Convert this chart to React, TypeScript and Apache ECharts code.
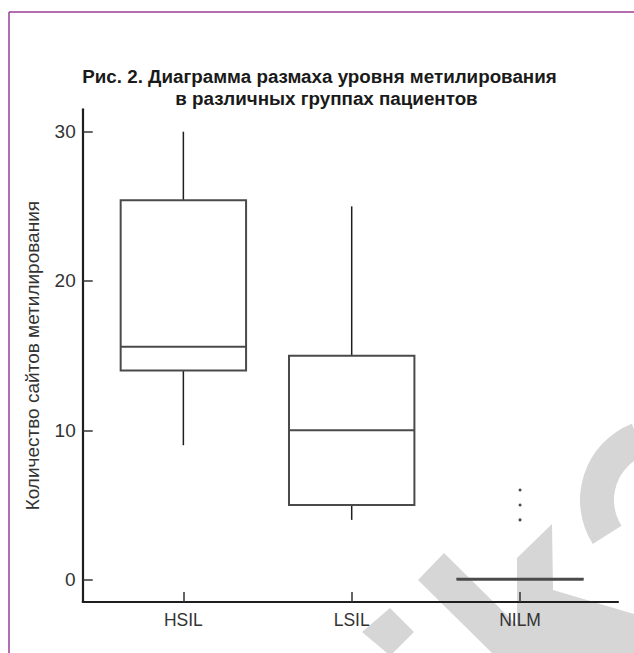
import React, { useEffect, useRef } from 'react';
import * as echarts from 'echarts';

const categories = ['HSIL', 'LSIL', 'NILM'];
// [min, Q1, median, Q3, max]
const boxValues = [
  [9, 14, 15.6, 25.4, 30],
  [4, 5, 10, 15, 25],
  [0, 0, 0, 0.05, 0],
];
const outliers = [
  [2, 6],
  [2, 5],
  [2, 4],
];
const yTicks = [0, 10, 20, 30];
const titleLines = [
  'Рис. 2. Диаграмма размаха уровня метилирования',
  'в различных группах пациентов',
];
const yName = 'Количество сайтов метилирования';

const FONT = '"Liberation Sans", Arial, sans-serif';
const WM = '#d6d6d6';

export default function App() {
  const ref = useRef<HTMLDivElement>(null);
  useEffect(() => {
    if (!ref.current) return;
    const chart = echarts.init(ref.current, undefined, { renderer: 'svg' });
    const option: any = {
      animation: false,
      backgroundColor: '#fff',
      textStyle: { fontFamily: FONT },
      graphic: [
        // watermark
        { type: 'polygon', z: -10, shape: { points: [[418, 580], [444, 553], [545, 653], [492, 653]] }, style: { fill: WM } },
        { type: 'polygon', z: -10, shape: { points: [[390, 608], [414, 632], [393, 653], [387, 653], [362, 632]] }, style: { fill: WM } },
        { type: 'polygon', z: -10, shape: { points: [[517, 558], [552, 524], [554, 653], [517, 653]] }, style: { fill: WM } },
        { type: 'polygon', z: -10, shape: { points: [[553, 590], [634, 614], [634, 653], [553, 653]] }, style: { fill: WM } },
        { type: 'sector', z: -10, shape: { cx: 662, cy: 500, r0: 48, r: 82, startAngle: Math.PI * 0.82, endAngle: Math.PI * 1.38 }, style: { fill: WM } },
        // frame
        { type: 'line', z: 1, shape: { x1: 9, y1: 12, x2: 634, y2: 12 }, style: { stroke: '#9a3e96', lineWidth: 1.5 } },
        { type: 'line', z: 1, shape: { x1: 9, y1: 12, x2: 9, y2: 653 }, style: { stroke: '#9a3e96', lineWidth: 1.5 } },
        // title
        { type: 'text', z: 1, style: { text: titleLines[0], x: 319.5, y: 76, align: 'center', verticalAlign: 'middle', font: 'bold 18.8px ' + FONT, fill: '#1a1a1a' } },
        { type: 'text', z: 1, style: { text: titleLines[1], x: 326.5, y: 98, align: 'center', verticalAlign: 'middle', font: 'bold 18.8px ' + FONT, fill: '#1a1a1a' } },
      ],
      grid: [
        { left: 99.2, right: 29.8, top: 109.3, bottom: 51 },
        { left: 82.7, right: 16, top: 109.3, bottom: 51 },
      ],
      xAxis: [
        {
          type: 'category',
          gridIndex: 0,
          data: categories,
          z: 3,
          axisLine: { show: false, onZero: false },
          axisTick: { show: true, inside: true, length: 10, alignWithLabel: true, lineStyle: { color: '#333', width: 1.5 } },
          axisLabel: { fontSize: 17.5, color: '#333', margin: 9, fontFamily: FONT },
          splitLine: { show: false },
        },
        {
          type: 'value',
          gridIndex: 1,
          min: 0,
          max: 1,
          z: 3,
          axisLine: { show: true, onZero: false, lineStyle: { color: '#1e1e1e', width: 2.2 } },
          axisTick: { show: false },
          axisLabel: { show: false },
          splitLine: { show: false },
        },
      ],
      yAxis: [
        {
          type: 'value',
          gridIndex: 0,
          min: -1.5,
          max: 31.5,
          offset: 16.5,
          z: 3,
          name: yName,
          nameLocation: 'middle',
          nameGap: 41,
          nameTextStyle: { fontSize: 19, color: '#333', fontFamily: FONT },
          axisLine: { show: true, onZero: false, lineStyle: { color: '#1e1e1e', width: 2.2 } },
          axisTick: { show: true, inside: true, length: 10, customValues: yTicks, lineStyle: { color: '#333', width: 1.5 } },
          axisLabel: { customValues: yTicks, fontSize: 19, color: '#333', margin: 7, fontFamily: FONT },
          splitLine: { show: false },
        },
        { type: 'value', gridIndex: 1, min: 0, max: 1, show: false },
      ],
      series: [
        {
          type: 'custom',
          xAxisIndex: 0,
          yAxisIndex: 0,
          z: 5,
          data: boxValues.map((v, i) => [i, ...v]),
          encode: { x: 0, y: [1, 2, 3, 4, 5] },
          renderItem: (params: any, api: any) => {
            const x = api.value(0);
            const lo = api.coord([x, api.value(1)]);
            const q1 = api.coord([x, api.value(2)]);
            const med = api.coord([x, api.value(3)]);
            const q3 = api.coord([x, api.value(4)]);
            const hi = api.coord([x, api.value(5)]);
            const half = (api.size([1, 0])[0] * 0.745) / 2;
            const cx = lo[0];
            const whisker = { stroke: '#1e1e1e', lineWidth: 1.5 };
            const box = { stroke: '#4a4a4a', lineWidth: 2, fill: 'none' };
            return {
              type: 'group',
              children: [
                { type: 'line', shape: { x1: cx, y1: hi[1], x2: cx, y2: q3[1] }, style: whisker },
                { type: 'line', shape: { x1: cx, y1: q1[1], x2: cx, y2: lo[1] }, style: whisker },
                { type: 'rect', shape: { x: cx - half, y: q3[1], width: 2 * half, height: q1[1] - q3[1] }, style: box },
                { type: 'line', shape: { x1: cx - half, y1: med[1], x2: cx + half, y2: med[1] }, style: box },
              ],
            };
          },
        },
        {
          type: 'scatter',
          xAxisIndex: 0,
          yAxisIndex: 0,
          z: 5,
          symbol: 'circle',
          symbolSize: 3,
          itemStyle: { color: '#1e1e1e' },
          data: outliers,
        },
      ],
    };
    chart.setOption(option);
    return () => chart.dispose();
  }, []);
  return <div ref={ref} style={{ position: 'fixed', left: 0, top: 0, width: 634, height: 653 }} />;
}
